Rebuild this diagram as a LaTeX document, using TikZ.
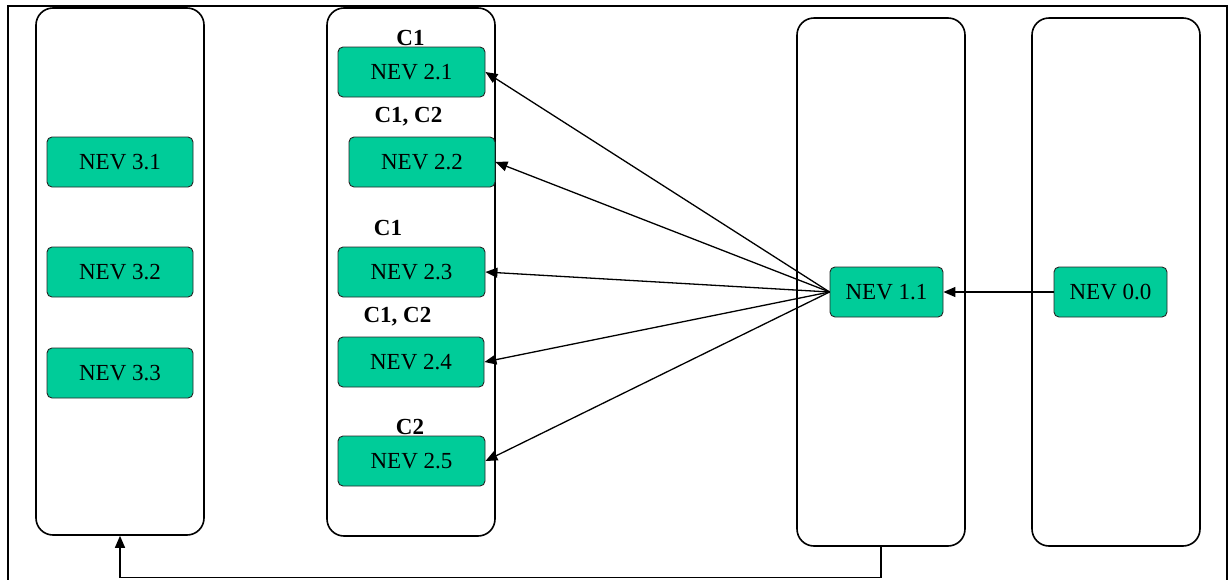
\documentclass[tikz,border=0pt]{standalone}
\usepackage{fontspec}
\setmainfont{Liberation Serif}
\usetikzlibrary{arrows.meta}
\definecolor{nevgreen}{RGB}{0,204,153}
\tikzset{
  colbox/.style={draw=black, line width=1.6pt, rounded corners=17pt, minimum width=168pt, inner sep=0pt},
  nev/.style={draw=black!85, line width=0.9pt, fill=nevgreen, rounded corners=5pt, minimum height=50pt, inner sep=0pt, font=\fontsize{23}{27}\selectfont},
  lbl/.style={font=\fontsize{23}{27}\selectfont\bfseries, inner sep=0pt},
  arr/.style={line width=1.3pt, -{Triangle[length=12pt,width=10pt]}}
}
\begin{document}
\begin{tikzpicture}[x=1pt,y=-1pt]
\useasboundingbox (0,0) rectangle (1232,579);
\draw[line width=2pt] (8,6) rectangle (1227,582);
% columns
\node[colbox, minimum height=527pt] (col3) at (120,271.5) {};
\node[colbox, minimum height=528pt] (col2) at (411,272) {};
\node[colbox, minimum height=528pt] (col1) at (881,282) {};
\node[colbox, minimum height=528pt] (col0) at (1116,282) {};
% column 3
\node[nev, minimum width=146pt] (n31) at (120,162) {NEV 3.1};
\node[nev, minimum width=146pt] (n32) at (120,272) {NEV 3.2};
\node[nev, minimum width=146pt] (n33) at (120,373) {NEV 3.3};
% column 2
\node[nev, minimum width=147pt] (n21) at (411.5,72) {NEV 2.1};
\node[nev, minimum width=146pt] (n22) at (422,162) {NEV 2.2};
\node[nev, minimum width=147pt] (n23) at (411.5,272) {NEV 2.3};
\node[nev, minimum width=146pt] (n24) at (411,362) {NEV 2.4};
\node[nev, minimum width=147pt] (n25) at (411.5,461) {NEV 2.5};
\node[lbl] (l21) at (410.5,38) {C1};
\node[lbl] (l22) at (408.5,117) {C1, C2};
\node[lbl] (l23) at (388,228) {C1};
\node[lbl] (l24) at (397.5,317) {C1, C2};
\node[lbl] (l25) at (410,427) {C2};
% column 1 and 0
\node[nev, minimum width=113pt] (n11) at (886.5,292) {NEV 1.1};
\node[nev, minimum width=113pt] (n00) at (1110.5,292) {NEV 0.0};
% connectors
\draw[arr] (n11.west) -- (n21.east);
\draw[arr] (n11.west) -- (n22.east);
\draw[arr] (n11.west) -- (n23.east);
\draw[arr] (n11.west) -- (n24.east);
\draw[arr] (n11.west) -- (n25.east);
\draw[arr] (n00.west) -- (n11.east);
\draw[arr] (col1.south) -- ++(0,31) -| (col3.south);
\end{tikzpicture}
\end{document}
